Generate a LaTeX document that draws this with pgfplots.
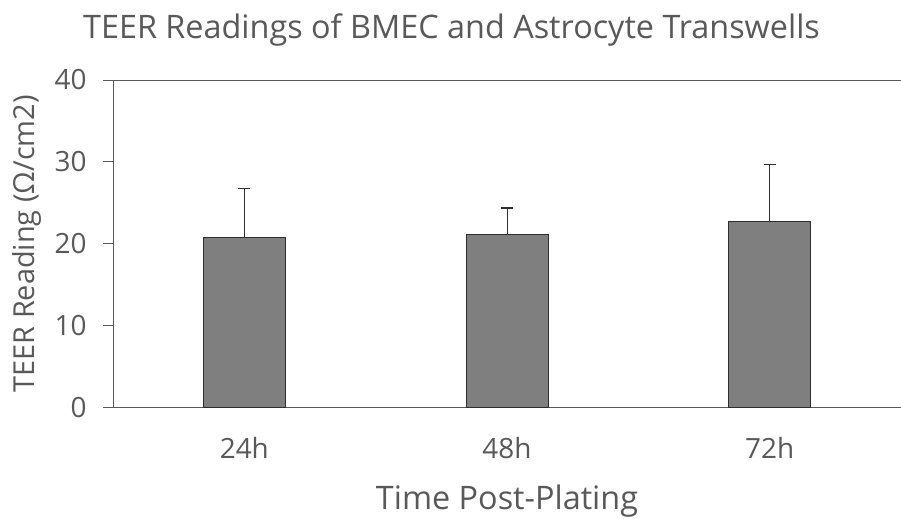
\documentclass[border=0pt]{standalone}
\usepackage{pgfplots}
\pgfplotsset{compat=1.18}
\usepackage{fontspec}
\setmainfont{Open Sans}
\definecolor{txt}{HTML}{595959}
\definecolor{barfill}{HTML}{7F7F7F}
\definecolor{baredge}{HTML}{2E2E2E}
\begin{document}
\begin{tikzpicture}[x=1bp,y=1bp]
\path[use as bounding box] (0,0) rectangle (901,519);
\begin{axis}[
  at={(113bp,111.3bp)}, anchor=south west,
  scale only axis, width=788bp, height=327.7bp,
  xmin=-0.5, xmax=2.5, ymin=0, ymax=40,
  axis lines*=left,
  axis line style={color=txt, line width=0.9pt},
  xtick={0,1,2}, xticklabels={24h,48h,72h},
  x tick style={draw=none},
  ytick={0,10,20,30,40},
  y tick style={color=txt, line width=0.9pt},
  tick align=outside, major tick length=10bp,
  ticklabel style={font=\fontsize{28}{32}\selectfont, text=txt},
  yticklabel style={anchor=east, xshift=-13bp},
  xticklabel style={anchor=base, yshift=-41bp},
  /pgf/number format/assume math mode=true,
  xlabel={Time Post-Plating},
  xlabel style={font=\fontsize{32.5}{36}\selectfont, text=txt, at={(axis description cs:0.5,0)}, anchor=base, yshift=-102bp},
  ylabel={TEER Reading (Ω/cm2)},
  ylabel style={font=\fontsize{29}{32}\selectfont, text=txt, at={(axis description cs:0,0.5)}, anchor=center, yshift=86bp},
  title={TEER Readings of BMEC and Astrocyte Transwells},
  title style={font=\fontsize{32.5}{36}\selectfont, text=txt, at={(axis description cs:0.4296,1)}, anchor=base, yshift=36bp},
  clip=false,
]
\draw[color=txt, line width=0.9pt] (rel axis cs:0,1) -- (rel axis cs:1,1);
\addplot[ybar, bar width=0.312, fill=barfill, draw=baredge, line width=0.9pt,
  error bars/.cd, y dir=plus, y explicit,
  error bar style={color=baredge, line width=1pt},
  error mark options={rotate=90, mark size=6bp, line width=1.2pt, color=baredge}]
  coordinates {
  (0,20.76) +- (0,5.98)
  (1,21.09) +- (0,3.29)
  (2,22.71) +- (0,6.96)
  };
\end{axis}
\end{tikzpicture}
\end{document}
